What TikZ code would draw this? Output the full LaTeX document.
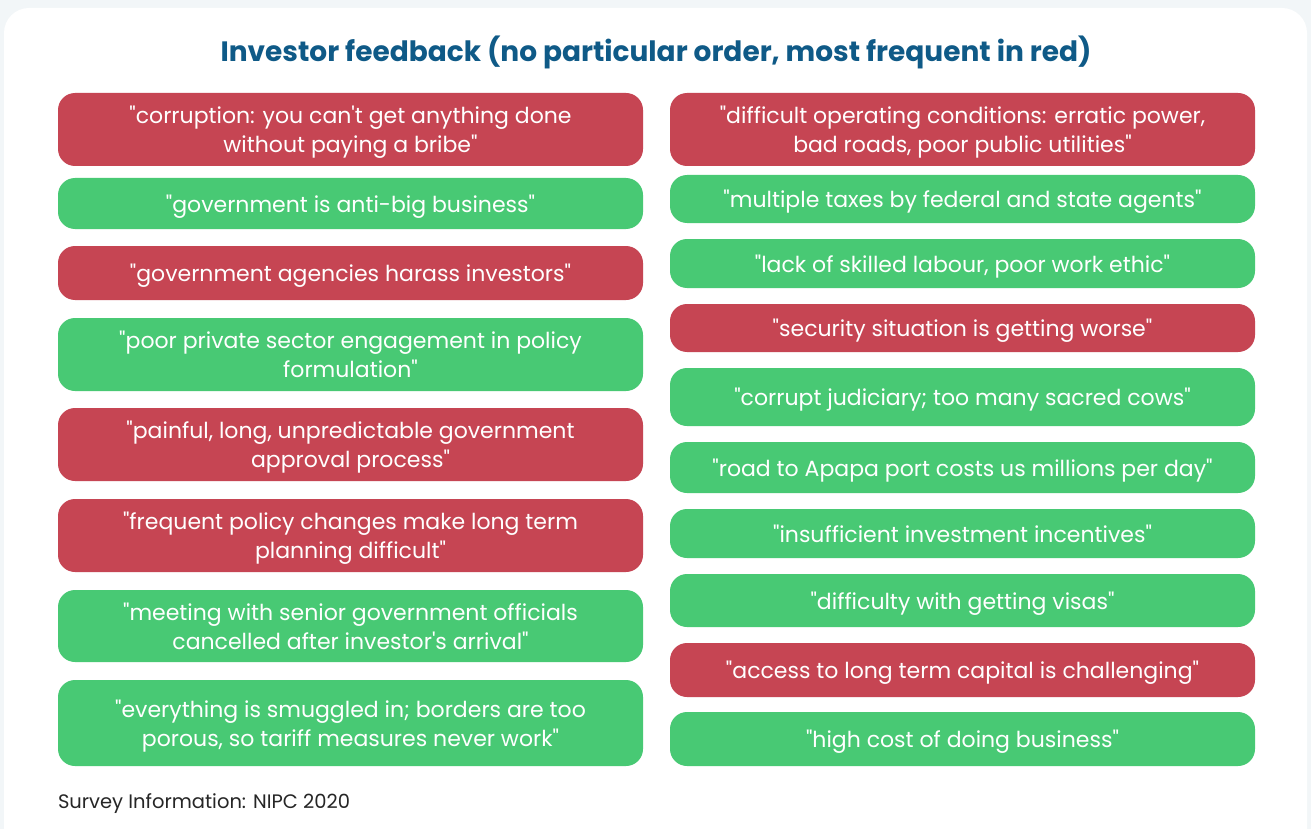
\documentclass[tikz,border=0pt]{standalone}
\usepackage{fontspec}
\setmainfont{Poppins}[Ligatures=TeXOff]
\usetikzlibrary{positioning}

\definecolor{pagebg}{HTML}{F2F6F8}
\definecolor{hotred}{HTML}{C64553}
\definecolor{calmgreen}{HTML}{48C974}
\definecolor{titleblue}{HTML}{0F5A87}

\tikzset{
x=1pt, y=-1pt,
every node/.style={inner sep=0pt, outer sep=0pt},
quote/.style={rounded corners=17pt, minimum width=585pt, text=white, align=center,
  text depth=0pt, font=\fontsize{22}{29}\selectfont},
redbox/.style={quote, fill=hotred},
greenbox/.style={quote, fill=calmgreen},
}

\begin{document}
\begin{tikzpicture}
        \fill[pagebg] (0,0) rectangle (1311,829);
        \useasboundingbox (0,0) rectangle (1311,829);
        \fill[white, rounded corners=25pt] (4,8) rectangle (1307,860);

        \node[text=titleblue, font=\fontsize{28}{32}\bfseries\selectfont] (title) at (656,52)
            {Investor feedback (no particular order, most frequent in red)};

        % left column
        \node[redbox, minimum height=73pt] (corruption) at (350.5,129.5)
            {"corruption: you can't get anything done\\without paying a bribe"};
        \node[greenbox, minimum height=51pt] (antibig) at (350.5,203.5)
            {"government is anti-big business"};
        \node[redbox, minimum height=54pt] (harass) at (350.5,273)
            {"government agencies harass investors"};
        \node[greenbox, minimum height=73pt] (policy) at (350.5,354.5)
            {"poor private sector engagement in policy\\formulation"};
        \node[redbox, minimum height=73pt] (approval) at (350.5,444.5)
            {"painful, long, unpredictable government\\approval process"};
        \node[redbox, minimum height=73pt] (changes) at (350.5,535.5)
            {"frequent policy changes make long term\\planning difficult"};
        \node[greenbox, minimum height=72pt] (meeting) at (350.5,626)
            {"meeting with senior government officials\\cancelled after investor's arrival"};
        \node[greenbox, minimum height=86pt] (smuggled) at (350.5,723)
            {"everything is smuggled in; borders are too\\porous, so tariff measures never work"};

        % right column
        \node[redbox, minimum height=73pt] (conditions) at (962.5,129.5)
            {"difficult operating conditions: erratic power,\\bad roads, poor public utilities"};
        \node[greenbox, minimum height=48pt] (taxes) at (962.5,199)
            {"multiple taxes by federal and state agents"};
        \node[greenbox, minimum height=49pt] (labour) at (962.5,263.5)
            {"lack of skilled labour, poor work ethic"};
        \node[redbox, minimum height=48pt] (security) at (962.5,328)
            {"security situation is getting worse"};
        \node[greenbox, minimum height=58pt] (judiciary) at (962.5,397)
            {"corrupt judiciary; too many sacred cows"};
        \node[greenbox, minimum height=51pt] (apapa) at (962.5,467.5)
            {"road to Apapa port costs us millions per day"};
        \node[greenbox, minimum height=49pt] (incentives) at (962.5,533.5)
            {"insufficient investment incentives"};
        \node[greenbox, minimum height=53pt] (visas) at (962.5,600.5)
            {"difficulty with getting visas"};
        \node[redbox, minimum height=54pt] (capital) at (962.5,670)
            {"access to long term capital is challenging"};
        \node[greenbox, minimum height=54pt] (cost) at (962.5,739)
            {"high cost of doing business"};

        \node[anchor=west, font=\fontsize{19.5}{22}\selectfont, text=black!85] (source) at (58,804)
            {Survey Information: NIPC 2020};
    \end{tikzpicture}
\end{document}
